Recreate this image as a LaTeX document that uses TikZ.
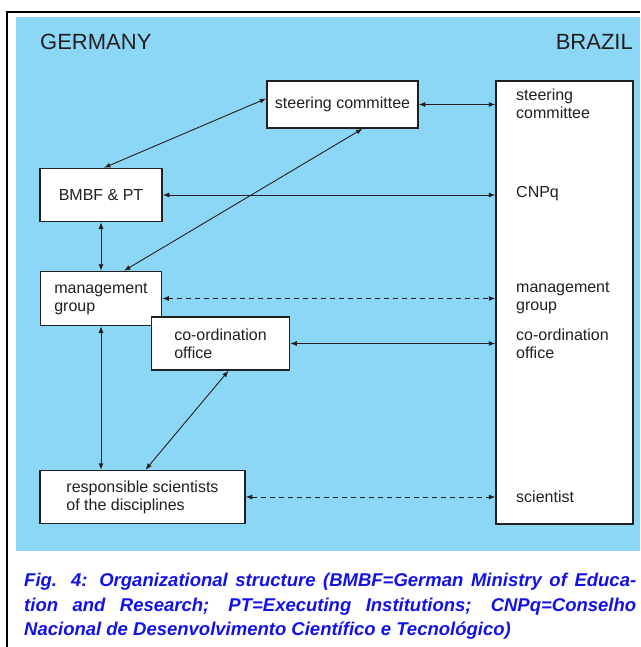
\documentclass[tikz,border=0pt]{standalone}
\usepackage{fontspec}
\setmainfont{Liberation Sans}
\usepackage{tikz}
\usetikzlibrary{arrows.meta,positioning}
\definecolor{skyBg}{RGB}{141,215,246}
\definecolor{ink}{HTML}{231F20}
\definecolor{capBlue}{RGB}{18,18,232}

\begin{document}
\begin{tikzpicture}[x=1pt,y=-1pt,>=Latex,
  box/.style={draw=ink,line width=1.5pt,fill=white,text=ink,inner sep=0pt,align=left,
    font=\fontsize{16}{18}\selectfont},
  blab/.style={anchor=west,align=left,text=ink,inner sep=0pt,font=\fontsize{16}{18}\selectfont},
  link/.style={{Latex[length=6.5pt,width=5pt]}-{Latex[length=6.5pt,width=5pt]},line width=0.9pt,draw=ink},
  loose/.style={link,dash pattern=on 5pt off 4pt},
  land/.style={inner sep=0pt,text=ink,font=\fontsize{22}{24}\selectfont}]
  \useasboundingbox (0,0) rectangle (640,647);
  \fill[skyBg] (16,17.5) rectangle (640,551);
  \draw[line width=2.5pt] (7,647) -- (7,12) -- (640,12);
  \node[land,anchor=base west] (germany) at (40,50) {GERMANY};
  \node[land,anchor=base east] (brazilname) at (633,50) {BRAZIL};

  % German side
  \node[box,minimum width=151pt,minimum height=47pt] (gsteer) at (342.5,104.5) {steering committee};
  \node[box,minimum width=122pt,minimum height=53pt] (bmbf) at (101,195) {BMBF \& PT};
  \node[box,minimum width=121pt,minimum height=54pt] (mgmt) at (101,298.5) {management\\group};
  \node[box,minimum width=138pt,minimum height=53pt] (coord) at (220.5,343.5) {co-ordination\\office};
  \node[box,minimum width=205pt,minimum height=53pt] (resp) at (142.5,497) {responsible scientists\\of the disciplines};

  % Brazilian side
  \node[box,minimum width=137pt,minimum height=443pt] (brazil) at (564.5,302.5) {};
  \node[blab] (bsteer) at (516,104) {steering\\committee};
  \node[blab] (bcnpq) at (516,194) {CNPq};
  \node[blab] (bmgmt) at (516,298) {management\\group};
  \node[blab] (bcoord) at (516,344) {co-ordination\\office};
  \node[blab] (bsci) at (516,497) {scientist};

  \draw[link] ([xshift=3pt]bmbf.north) -- ([yshift=6pt]gsteer.west);
  \draw[link] (gsteer.east) -- (gsteer.east -| brazil.west);
  \draw[link] ([xshift=20pt]gsteer.south) -- ([xshift=23pt]mgmt.north);
  \draw[link] (bmbf.east) -- (bmbf.east -| brazil.west);
  \draw[link] (bmbf.south) -- (mgmt.north);
  \draw[loose] (mgmt.east) -- (mgmt.east -| brazil.west);
  \draw[link] (coord.east) -- (coord.east -| brazil.west);
  \draw[link] (mgmt.south) -- (mgmt.south |- resp.north);
  \draw[link] ([xshift=8pt]coord.south) -- ([xshift=3pt]resp.north);
  \draw[loose] (resp.east) -- (resp.east -| brazil.west);

  \node[anchor=north west,inner sep=0pt,text width=612pt,align=justify,text=capBlue,
    font=\fontsize{18.5}{24.5}\selectfont\bfseries\itshape] (caption) at (24,573)
    {\hyphenpenalty=10000\relax
     Fig. 4: Organizational structure (BMBF=German Ministry of Educa-\linebreak
     tion and Research; PT=Executing Institutions; CNPq=Conselho\linebreak
     Nacional de Desenvolvimento Científico e Tecnológico)};
\end{tikzpicture}
\end{document}
